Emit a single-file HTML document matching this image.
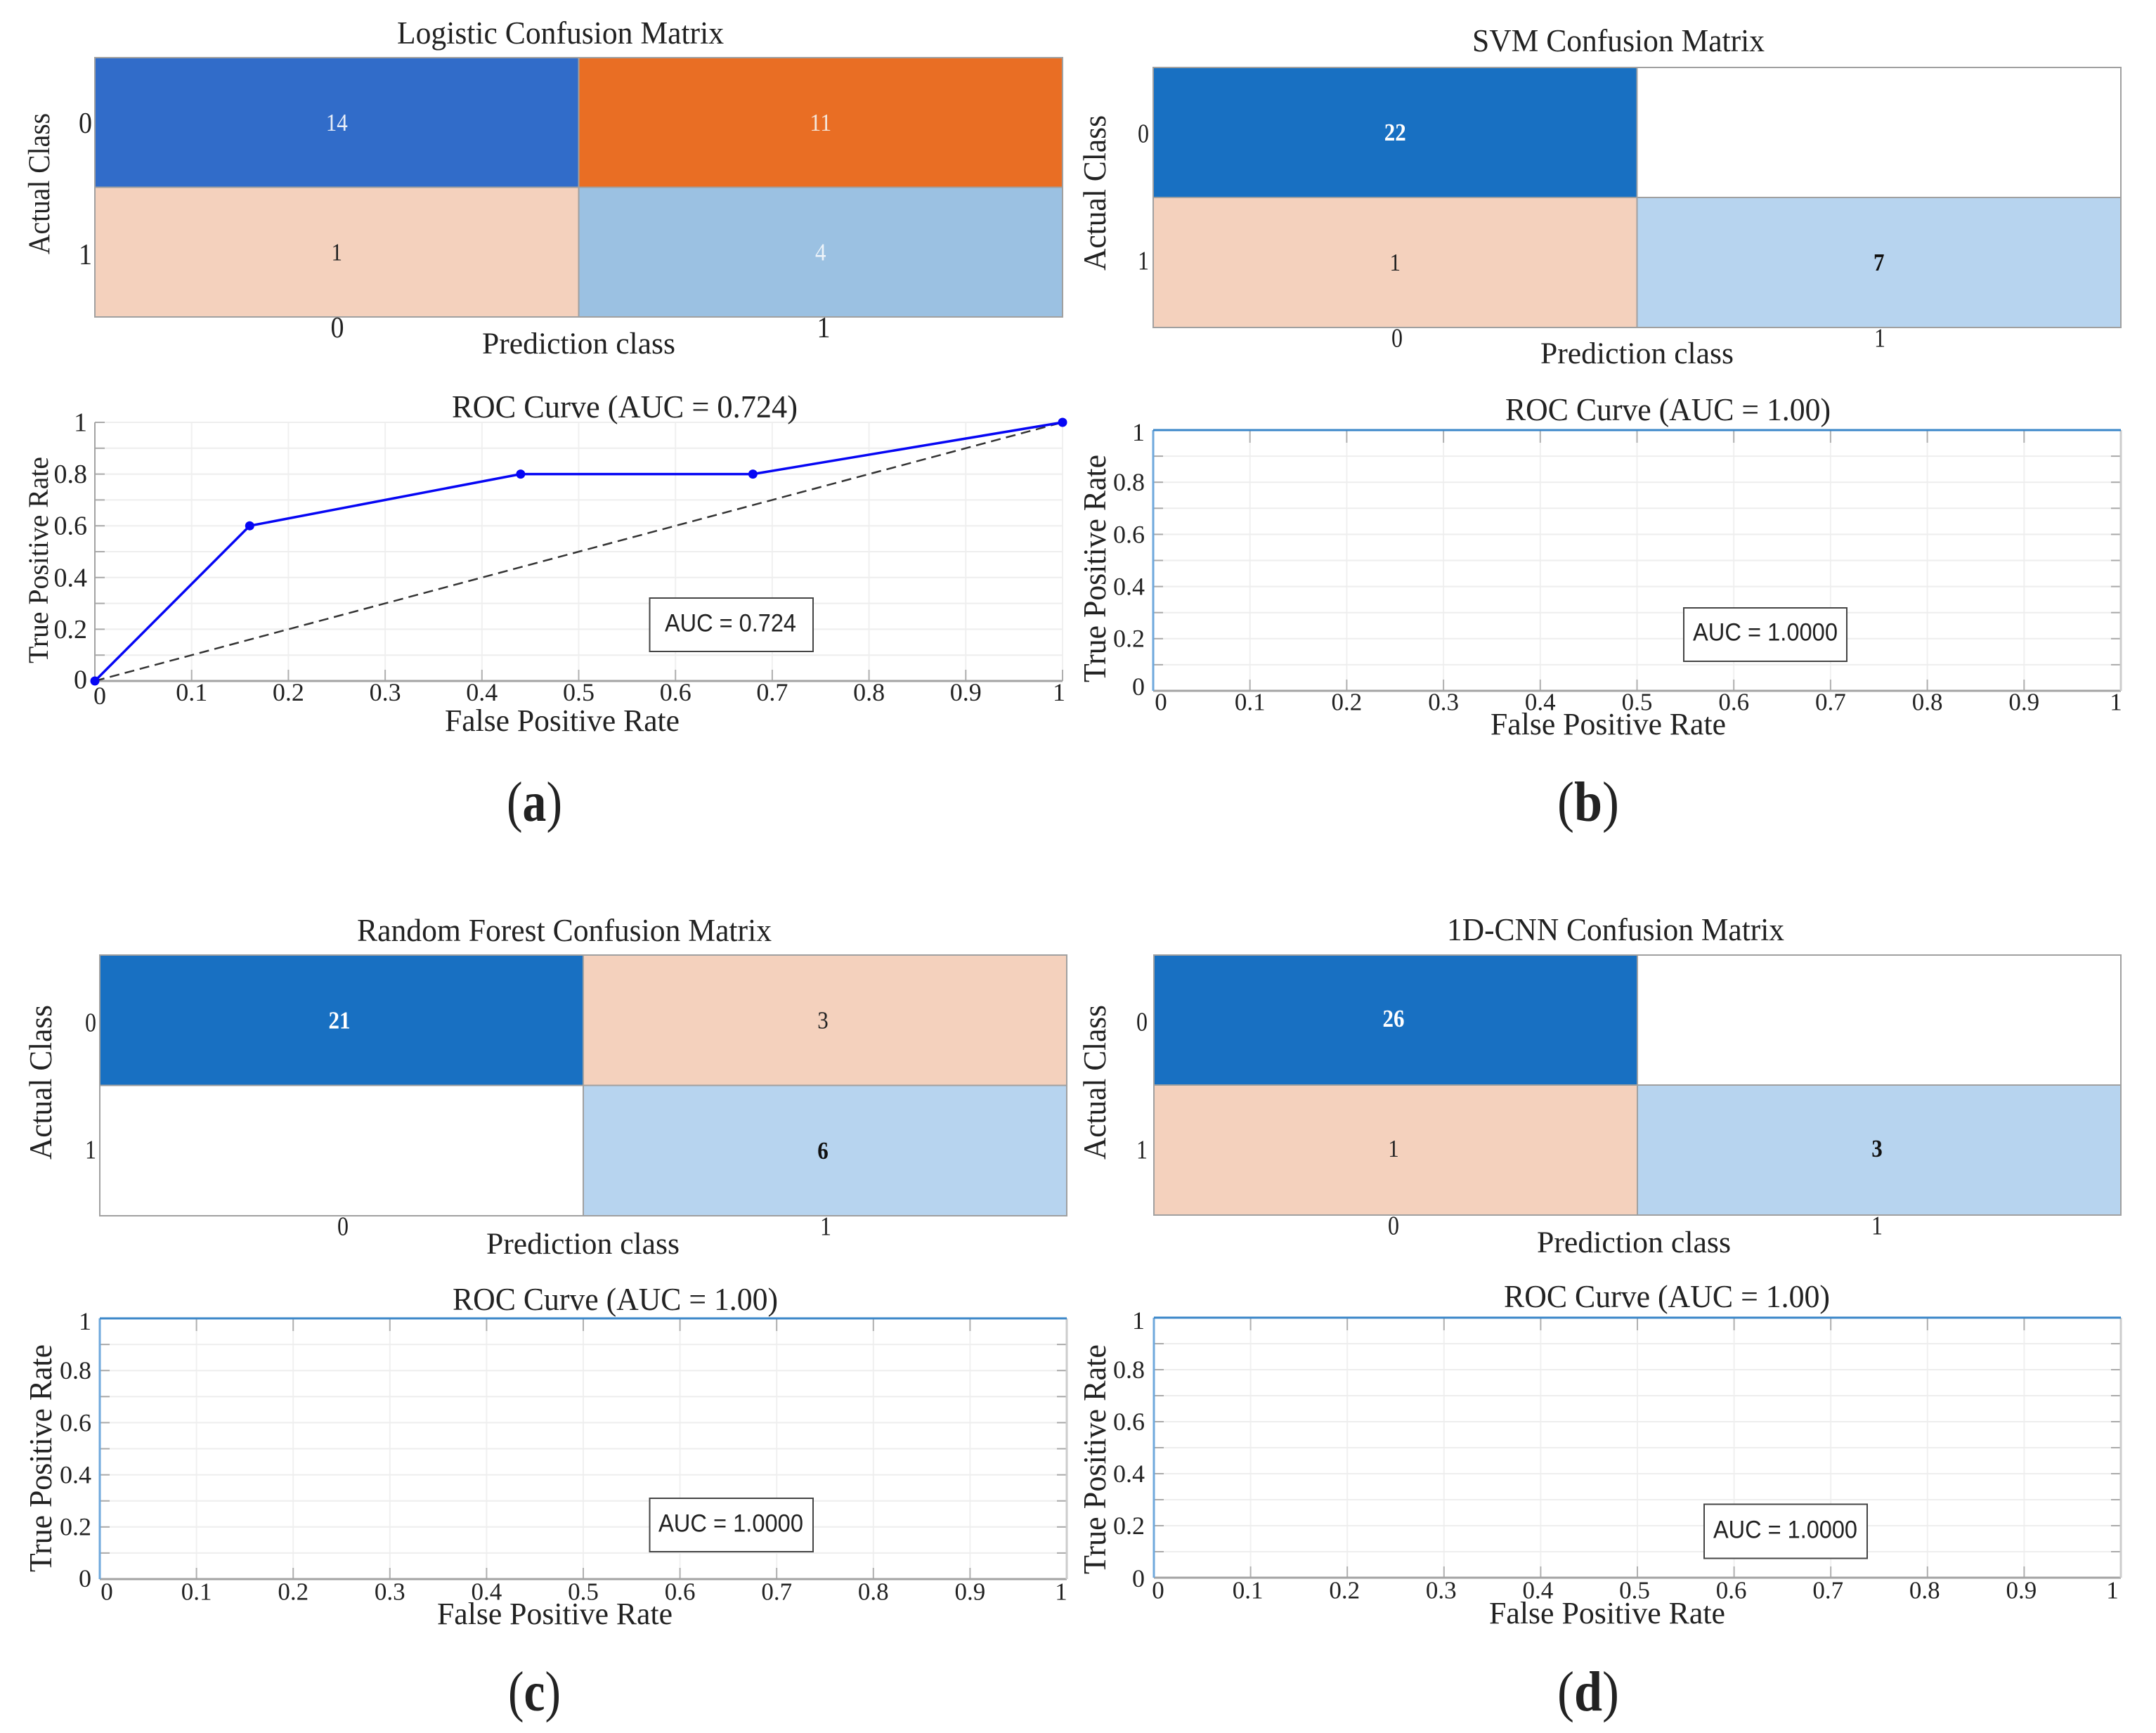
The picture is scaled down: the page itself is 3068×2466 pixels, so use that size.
<!DOCTYPE html>
<html lang="en">
<head>
<meta charset="utf-8">
<title>Confusion matrices and ROC curves</title>
<style>
html,body{margin:0;padding:0;background:#fff;}
svg{display:block;}
text{font-family:"Liberation Serif",serif;fill:#222;}
.sans{font-family:"Liberation Sans",sans-serif;}
</style>
</head>
<body>
<svg id="figure" xmlns="http://www.w3.org/2000/svg" width="3068" height="2466" viewBox="0 0 3068 2466">
<rect width="3068" height="2466" fill="#fff"/>
<g id="marks"></g>

<!-- Panel a text -->
<text x="565" y="62" font-size="45" textLength="465" lengthAdjust="spacingAndGlyphs">Logistic Confusion Matrix</text>
<text x="686" y="503" font-size="43" textLength="275" lengthAdjust="spacingAndGlyphs">Prediction class</text>
<text transform="translate(70,362) rotate(-90)" font-size="43" textLength="201" lengthAdjust="spacingAndGlyphs">Actual Class</text>
<text x="643" y="594" font-size="45" textLength="492" lengthAdjust="spacingAndGlyphs">ROC Curve (AUC  = 0.724)</text>
<text x="633" y="1040" font-size="44" textLength="334" lengthAdjust="spacingAndGlyphs">False Positive Rate</text>
<text transform="translate(68,944) rotate(-90)" font-size="40" textLength="294" lengthAdjust="spacingAndGlyphs">True Positive Rate</text>
<text x="721" y="1168" font-size="80" textLength="79" lengthAdjust="spacingAndGlyphs">(<tspan font-weight="bold">a</tspan>)</text>

<!-- Panel b text -->
<text x="2095" y="73" font-size="45" textLength="416" lengthAdjust="spacingAndGlyphs">SVM Confusion Matrix</text>
<text x="2192" y="517" font-size="43" textLength="275" lengthAdjust="spacingAndGlyphs">Prediction class</text>
<text transform="translate(1573,385) rotate(-90)" font-size="46" textLength="221" lengthAdjust="spacingAndGlyphs">Actual Class</text>
<text x="2142" y="598" font-size="45" textLength="463" lengthAdjust="spacingAndGlyphs">ROC Curve (AUC = 1.00)</text>
<text x="2121" y="1045" font-size="44" textLength="335" lengthAdjust="spacingAndGlyphs">False Positive Rate</text>
<text transform="translate(1573,971) rotate(-90)" font-size="46" textLength="324" lengthAdjust="spacingAndGlyphs">True Positive Rate</text>
<text x="2216" y="1168" font-size="80" textLength="88" lengthAdjust="spacingAndGlyphs">(<tspan font-weight="bold">b</tspan>)</text>

<!-- Panel c text -->
<text x="508" y="1339" font-size="45" textLength="590" lengthAdjust="spacingAndGlyphs">Random Forest Confusion Matrix</text>
<text x="692" y="1784" font-size="43" textLength="275" lengthAdjust="spacingAndGlyphs">Prediction class</text>
<text transform="translate(73,1650) rotate(-90)" font-size="46" textLength="220" lengthAdjust="spacingAndGlyphs">Actual Class</text>
<text x="644" y="1864" font-size="45" textLength="463" lengthAdjust="spacingAndGlyphs">ROC Curve (AUC = 1.00)</text>
<text x="622" y="2311" font-size="44" textLength="335" lengthAdjust="spacingAndGlyphs">False Positive Rate</text>
<text transform="translate(73,2237) rotate(-90)" font-size="46" textLength="324" lengthAdjust="spacingAndGlyphs">True Positive Rate</text>
<text x="723" y="2434" font-size="80" textLength="75" lengthAdjust="spacingAndGlyphs">(<tspan font-weight="bold">c</tspan>)</text>

<!-- Panel d text -->
<text x="2059" y="1338" font-size="45" textLength="480" lengthAdjust="spacingAndGlyphs">1D-CNN Confusion Matrix</text>
<text x="2187" y="1782" font-size="43" textLength="276" lengthAdjust="spacingAndGlyphs">Prediction class</text>
<text transform="translate(1573,1650) rotate(-90)" font-size="46" textLength="220" lengthAdjust="spacingAndGlyphs">Actual Class</text>
<text x="2140" y="1860" font-size="45" textLength="464" lengthAdjust="spacingAndGlyphs">ROC Curve (AUC = 1.00)</text>
<text x="2119" y="2310" font-size="44" textLength="336" lengthAdjust="spacingAndGlyphs">False Positive Rate</text>
<text transform="translate(1573,2240) rotate(-90)" font-size="46" textLength="327" lengthAdjust="spacingAndGlyphs">True Positive Rate</text>
<text x="2216" y="2434" font-size="80" textLength="88" lengthAdjust="spacingAndGlyphs">(<tspan font-weight="bold">d</tspan>)</text>
</svg>

<script>
// ---- chart data ----
const classLabels = ['0', '1'];
const rocXTickValues = [0, 0.1, 0.2, 0.3, 0.4, 0.5, 0.6, 0.7, 0.8, 0.9, 1];
const rocXTickLabels = ['0', '0.1', '0.2', '0.3', '0.4', '0.5', '0.6', '0.7', '0.8', '0.9', '1'];
const rocYGridValues = [0, 0.1, 0.2, 0.3, 0.4, 0.5, 0.6, 0.7, 0.8, 0.9, 1];
const rocYTickValues = [0, 0.2, 0.4, 0.6, 0.8, 1];
const rocYTickLabels = ['0', '0.2', '0.4', '0.6', '0.8', '1'];

const logisticCounts = [14, 11, 1, 4];
const svmCounts = [22, 0, 1, 7];
const forestCounts = [21, 3, 0, 6];
const cnnCounts = [26, 0, 1, 3];

const logisticFpr = [0, 0.16, 0.44, 0.68, 1];
const logisticTpr = [0, 0.6, 0.8, 0.8, 1];
const svmFpr = [0, 0, 1];
const svmTpr = [0, 1, 1];
const forestFpr = [0, 0, 1];
const forestTpr = [0, 1, 1];
const cnnFpr = [0, 0, 1];
const cnnTpr = [0, 1, 1];
const chanceFpr = [0, 1];
const chanceTpr = [0, 1];

const logisticAuc = 'AUC = 0.724';
const svmAuc = 'AUC = 1.0000';
const forestAuc = 'AUC = 1.0000';
const cnnAuc = 'AUC = 1.0000';

// ---- layout ----
const panels = [
  { id: 'logistic', counts: logisticCounts, fpr: logisticFpr, tpr: logisticTpr, auc: logisticAuc, simple: true,
    l: 135, r: 1512, cmT: 82, cmB: 451, rocT: 601, rocB: 969,
    fills: ['#316cc9', '#e96e24', '#f4d1bd', '#9bc1e2'], inks: ['#e8eef8', '#f5e6da', '#222', '#eef4fa'], bolds: [false, false, false, false],
    valueDx: 0, valueDy: 0, cmXLab: [480, 1172], cmXLabY: 466, cmYLabR: 131, cmYLabY: [175, 362], cmFont: 42, cmTickW: 19,
    xLabY: 985, yLabR: 124, xFont: 36, yFont: 38, firstDx: 7, firstDy: 5, lastDx: -5, midDx: 0, zeroDy: -2, oneDy: 0,
    box: [924.5, 851, 232.5, 76], boxText: [946, 187, 887] },
  { id: 'svm', counts: svmCounts, fpr: svmFpr, tpr: svmTpr, auc: svmAuc, simple: false,
    l: 1641, r: 3018, cmT: 96, cmB: 466, rocT: 612, rocB: 983,
    fills: ['#1870c2', '#ffffff', '#f4d1bd', '#b7d4ef'], inks: ['#fff', '#222', '#222', '#111'], bolds: [true, false, false, true],
    valueDx: 0, valueDy: 0, cmXLab: [1988, 2675], cmXLabY: 481, cmYLabR: 1635, cmYLabY: [190, 371], cmFont: 38, cmTickW: 16,
    xLabY: 999, yLabR: 1629, xFont: 35, yFont: 36, firstDx: 11, firstDy: 0, lastDx: -7, midDx: 0, zeroDy: -6, oneDy: 3,
    box: [2396, 865, 232, 76], boxText: [2409, 206, 900] },
  { id: 'random-forest', counts: forestCounts, fpr: forestFpr, tpr: forestTpr, auc: forestAuc, simple: false,
    l: 142, r: 1518, cmT: 1359, cmB: 1730, rocT: 1876, rocB: 2247,
    fills: ['#1870c2', '#f4d1bd', '#ffffff', '#b7d4ef'], inks: ['#fff', '#222', '#222', '#111'], bolds: [true, false, false, true],
    valueDx: -3, valueDy: 0, cmXLab: [488, 1175], cmXLabY: 1745, cmYLabR: 137, cmYLabY: [1455, 1636], cmFont: 38, cmTickW: 16,
    xLabY: 2265, yLabR: 130, xFont: 35, yFont: 36, firstDx: 10, firstDy: 0, lastDx: -8, midDx: 0, zeroDy: -1, oneDy: 4,
    box: [924.5, 2132, 232.5, 76], boxText: [937, 206, 2168] },
  { id: 'cnn', counts: cnnCounts, fpr: cnnFpr, tpr: cnnTpr, auc: cnnAuc, simple: false,
    l: 1642, r: 3018, cmT: 1359, cmB: 1729, rocT: 1875, rocB: 2245,
    fills: ['#1870c2', '#ffffff', '#f4d1bd', '#b7d4ef'], inks: ['#fff', '#222', '#222', '#111'], bolds: [true, false, false, true],
    valueDx: -3, valueDy: -2, cmXLab: [1983, 2671], cmXLabY: 1744, cmYLabR: 1633, cmYLabY: [1454, 1636], cmFont: 38, cmTickW: 16,
    xLabY: 2263, yLabR: 1629, xFont: 35, yFont: 36, firstDx: 6, firstDy: 0, lastDx: -12, midDx: -4, zeroDy: 1, oneDy: 4,
    box: [2425, 2140.5, 232, 77], boxText: [2438, 205, 2177] }
];

// ---- drawing helpers ----
const NS = 'http://www.w3.org/2000/svg';
const root = document.getElementById('marks');

function shape(tag, props) {
  const el = document.createElementNS(NS, tag);
  for (const k in props) el.setAttribute(k, props[k]);
  root.appendChild(el);
  return el;
}
function label(str, x, yCenter, size, anchor) {
  const el = shape('text', { x: x, y: yCenter + size * 0.33, 'font-size': size, 'text-anchor': anchor });
  el.textContent = str;
  return el;
}
function xScale(p, v) { return p.l + v * (p.r - p.l); }
function yScale(p, v) { return p.rocB - v * (p.rocB - p.rocT); }

panels.forEach(function (p) {
  // confusion matrix cells
  const cellW = (p.r - p.l) / 2;
  const cellH = (p.cmB - p.cmT) / 2;
  p.counts.forEach(function (count, i) {
    const col = i % 2;
    const row = Math.floor(i / 2);
    const cellX = p.l + col * cellW;
    const cellY = p.cmT + row * cellH;
    const cell = shape('rect', { x: cellX, y: cellY, width: cellW, height: cellH,
      fill: count === 0 ? '#ffffff' : p.fills[i], stroke: '#a0a0a0', 'stroke-width': 2 });
    
    
    if (count !== 0) {
      const value = label(String(count), cellX + cellW / 2 + p.valueDx, cellY + cellH / 2 + p.valueDy, 35, 'middle');
      
      
      value.setAttribute('textLength', String(count).length * 15.5);
      value.setAttribute('lengthAdjust', 'spacingAndGlyphs');
      value.style.fill = p.inks[i];
      if (p.bolds[i]) value.setAttribute('font-weight', 'bold');
    }
  });
  classLabels.forEach(function (c, i) {
    const xl = label(c, p.cmXLab[i], p.cmXLabY, p.cmFont, 'middle');
    
    
    xl.setAttribute('textLength', p.cmTickW);
    xl.setAttribute('lengthAdjust', 'spacingAndGlyphs');
    const yl = label(c, p.cmYLabR, p.cmYLabY[i], p.cmFont, 'end');
    
    
    yl.setAttribute('textLength', p.cmTickW);
    yl.setAttribute('lengthAdjust', 'spacingAndGlyphs');
  });

  // ROC grid and ticks
  rocXTickValues.forEach(function (v, i) {
    const x = xScale(p, v);
    const grid = shape('line', { x1: x, x2: x, y1: p.rocT, y2: p.rocB, stroke: '#f0f0f0', 'stroke-width': 2 });
    
    
    const tick = shape('line', { x1: x, x2: x, y1: p.rocB, y2: p.rocB - 16, stroke: '#b0b0b0', 'stroke-width': 2 });
    
    
    if (!p.simple) {
      const topTick = shape('line', { x1: x, x2: x, y1: p.rocT, y2: p.rocT + 18, stroke: '#b0b0b0', 'stroke-width': 2 });
      
      
    }
    let dx = p.midDx;
    let dy = 0;
    if (i === 0) { dx = p.firstDx; dy = p.firstDy; }
    if (i === rocXTickValues.length - 1) dx = p.lastDx;
    const txt = label(rocXTickLabels[i], x + dx, p.xLabY + dy, p.xFont, 'middle');
    
    
  });
  rocYGridValues.forEach(function (v) {
    const y = yScale(p, v);
    const grid = shape('line', { x1: p.l, x2: p.r, y1: y, y2: y, stroke: '#eeeeee', 'stroke-width': 2 });
    
    
    const tick = shape('line', { x1: p.l, x2: p.l + 14, y1: y, y2: y, stroke: '#aaa', 'stroke-width': 2 });
    
    
    if (!p.simple) {
      const rightTick = shape('line', { x1: p.r - 14, x2: p.r, y1: y, y2: y, stroke: '#aaa', 'stroke-width': 2 });
      
      
    }
  });
  rocYTickValues.forEach(function (v, i) {
    let dy = 0;
    if (v === 0) dy = p.zeroDy;
    if (v === 1) dy = p.oneDy;
    const txt = label(rocYTickLabels[i], p.yLabR, yScale(p, v) + dy, p.yFont, 'end');
    
    
    if (p.simple) {
      txt.style.stroke = '#fff';
      txt.style.strokeWidth = '6px';
      txt.style.paintOrder = 'stroke';
    }
  });

  // axes
  const xAxis = shape('line', { x1: p.l, x2: p.r, y1: p.rocB, y2: p.rocB, stroke: '#a3a3a3', 'stroke-width': 3 });
  
  
  const yAxis = shape('line', { x1: p.l, x2: p.l, y1: p.rocT, y2: p.rocB, stroke: '#a3a3a3', 'stroke-width': 2 });
  
  
  if (!p.simple) {
    const rightAxis = shape('line', { x1: p.r, x2: p.r, y1: p.rocT, y2: p.rocB, stroke: '#cccccc', 'stroke-width': 3 });
    
    
  }

  // series
  if (p.simple) {
    const chance = shape('line', { x1: xScale(p, chanceFpr[0]), y1: yScale(p, chanceTpr[0]), x2: xScale(p, chanceFpr[1]), y2: yScale(p, chanceTpr[1]), stroke: '#333', 'stroke-width': 2.5, 'stroke-dasharray': '14 8' });
    
    
  }
  p.fpr.forEach(function (v, i) {
    if (i === 0) return;
    const vertical = v === p.fpr[i - 1];
    const seg = shape('line', { x1: xScale(p, p.fpr[i - 1]), y1: yScale(p, p.tpr[i - 1]), x2: xScale(p, v), y2: yScale(p, p.tpr[i]),
      stroke: p.simple ? '#0606f4' : (vertical ? '#6fa8dc' : '#3a86c8'), 'stroke-width': p.simple ? 3.5 : 3 });
    
    
  });
  if (p.simple) {
    p.fpr.forEach(function (v, i) {
      const dot = shape('circle', { cx: xScale(p, v), cy: yScale(p, p.tpr[i]), r: 6.5, fill: '#0606f4' });
      
      
    });
  }

  // AUC annotation
  const box = shape('rect', { x: p.box[0], y: p.box[1], width: p.box[2], height: p.box[3], fill: '#fff', stroke: '#444', 'stroke-width': 2 });
  
  
  const aucText = label(p.auc, p.boxText[0], p.boxText[2], 35, 'start');
  
  
  aucText.setAttribute('class', 'sans');
  aucText.setAttribute('textLength', p.boxText[1]);
  aucText.setAttribute('lengthAdjust', 'spacingAndGlyphs');
});
</script>
</body>
</html>
